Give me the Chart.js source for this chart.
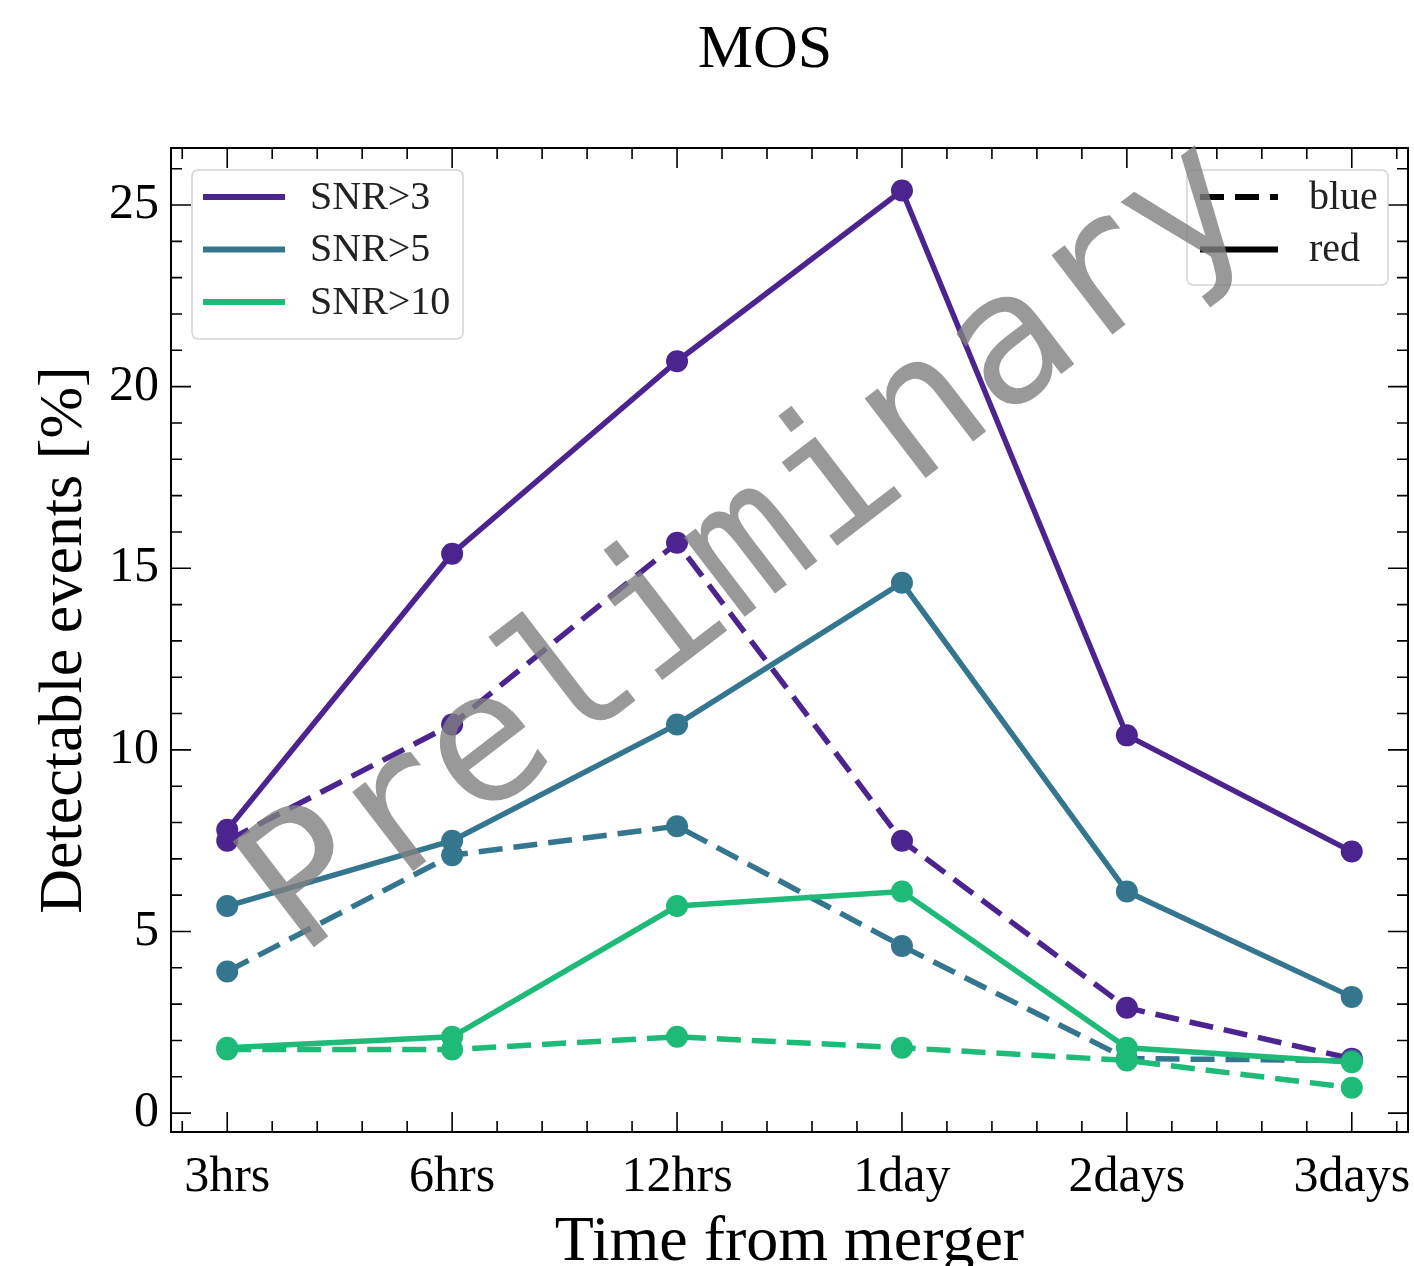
<!DOCTYPE html>
<html>
<head>
<meta charset="utf-8">
<script src="https://cdn.jsdelivr.net/npm/chart.js@4.4.0/dist/chart.umd.min.js"></script>
<style>
  html, body { margin: 0; padding: 0; background: #fff; }
  #wrap { width: 1414px; height: 1266px; }
</style>
</head>
<body>
<div id="wrap"><canvas id="mosChart" width="1414" height="1266"></canvas></div>
<script>
const TIMES = ["3hrs", "6hrs", "12hrs", "1day", "2days", "3days"];
const Y_TICKS = [0, 5, 10, 15, 20, 25];
// solid = red, dashed = blue
const SNR3_RED = [7.8, 15.4, 20.7, 25.4, 10.4, 7.2];
const SNR3_BLUE = [7.5, 10.7, 15.7, 7.5, 2.9, 1.5];
const SNR5_RED = [5.7, 7.5, 10.7, 14.6, 6.1, 3.2];
const SNR5_BLUE = [3.9, 7.1, 7.9, 4.6, 1.5, 1.45];
const SNR10_RED = [1.8, 2.1, 5.7, 6.1, 1.8, 1.4];
const SNR10_BLUE = [1.75, 1.75, 2.1, 1.8, 1.45, 0.7];

const PURPLE = "#4b2490";
const TEAL = "#35768f";
const GREEN = "#1dba78";
const SERIF = "'Liberation Serif', 'DejaVu Serif', serif";
const DASH = [24, 11];

function toPoints(values) {
  return values.map((v, i) => ({ x: i, y: v }));
}

function makeSet(label, values, color, dashed, order) {
  return {
    label: label,
    data: toPoints(values),
    borderColor: color,
    backgroundColor: color,
    borderWidth: 5.5,
    borderDash: dashed ? DASH : [],
    pointRadius: 11,
    pointBorderWidth: 0,
    pointBackgroundColor: color,
    tension: 0,
    order: order,
  };
}

const datasets = [
  makeSet("SNR>10 red", SNR10_RED, GREEN, false, 1),
  makeSet("SNR>10 blue", SNR10_BLUE, GREEN, true, 1),
  makeSet("SNR>5 red", SNR5_RED, TEAL, false, 2),
  makeSet("SNR>5 blue", SNR5_BLUE, TEAL, true, 2),
  makeSet("SNR>3 red", SNR3_RED, PURPLE, false, 3),
  makeSet("SNR>3 blue", SNR3_BLUE, PURPLE, true, 3),
];

function roundBox(ctx, x, y, w, h, r) {
  ctx.beginPath();
  ctx.moveTo(x + r, y);
  ctx.lineTo(x + w - r, y);
  ctx.quadraticCurveTo(x + w, y, x + w, y + r);
  ctx.lineTo(x + w, y + h - r);
  ctx.quadraticCurveTo(x + w, y + h, x + w - r, y + h);
  ctx.lineTo(x + r, y + h);
  ctx.quadraticCurveTo(x, y + h, x, y + h - r);
  ctx.lineTo(x, y + r);
  ctx.quadraticCurveTo(x, y, x + r, y);
  ctx.closePath();
  ctx.fillStyle = "rgba(255,255,255,0.8)";
  ctx.fill();
  ctx.strokeStyle = "#d4d4d4";
  ctx.lineWidth = 1.5;
  ctx.stroke();
}

const framePlugin = {
  id: "frameAndExtras",
  afterDatasetsDraw(chart) {
    const ctx = chart.ctx;
    const a = chart.chartArea;
    const xs = chart.scales.x;
    const ys = chart.scales.y;
    ctx.save();
    // title
    ctx.fillStyle = "#000";
    ctx.font = "62px " + SERIF;
    ctx.textAlign = "center";
    ctx.textBaseline = "alphabetic";
    ctx.fillText("MOS", 765, 67);
    // frame
    ctx.strokeStyle = "#000";
    ctx.lineWidth = 2;
    ctx.strokeRect(a.left, a.top, a.right - a.left, a.bottom - a.top);
    // inward ticks on all sides
    ctx.lineWidth = 1.6;
    ctx.beginPath();
    for (let i = -1; i <= TIMES.length; i += 0.2) {
      const v = Math.round(i * 10) / 10;
      if (v < xs.min || v > xs.max) continue;
      const px = xs.getPixelForValue(v);
      const len = Math.abs(v - Math.round(v)) < 1e-6 ? 20 : 11;
      ctx.moveTo(px, a.bottom); ctx.lineTo(px, a.bottom - len);
      ctx.moveTo(px, a.top); ctx.lineTo(px, a.top + len);
    }
    for (let v = 0; v <= ys.max; v += 1) {
      const py = ys.getPixelForValue(v);
      const len = v % 5 === 0 ? 20 : 11;
      ctx.moveTo(a.left, py); ctx.lineTo(a.left + len, py);
      ctx.moveTo(a.right, py); ctx.lineTo(a.right - len, py);
    }
    ctx.stroke();

    // legend: SNR colours
    roundBox(ctx, 192, 170, 271, 169, 7);
    const snrItems = [["SNR>3", PURPLE], ["SNR>5", TEAL], ["SNR>10", GREEN]];
    ctx.font = "40px " + SERIF;
    ctx.textBaseline = "middle";
    ctx.textAlign = "left";
    snrItems.forEach((it, k) => {
      const y = 197 + k * 52.5;
      ctx.strokeStyle = it[1];
      ctx.lineWidth = 6;
      ctx.setLineDash([]);
      ctx.beginPath(); ctx.moveTo(203, y); ctx.lineTo(285, y); ctx.stroke();
      ctx.fillStyle = "#222";
      ctx.fillText(it[0], 310, y + 1);
    });

    // legend: line styles
    roundBox(ctx, 1187, 170, 201, 115, 7);
    const styleItems = [["blue", DASH], ["red", []]];
    styleItems.forEach((it, k) => {
      const y = 197 + k * 52.5;
      ctx.strokeStyle = "#000";
      ctx.lineWidth = 6;
      ctx.setLineDash(it[1]);
      ctx.beginPath(); ctx.moveTo(1200, y); ctx.lineTo(1278, y); ctx.stroke();
      ctx.setLineDash([]);
      ctx.fillStyle = "#222";
      ctx.fillText(it[0], 1309, y + 1);
    });

    // watermark
    ctx.translate(300, 958);
    ctx.rotate(-37.5 * Math.PI / 180);
    ctx.font = "183px 'DejaVu Sans Mono', monospace";
    ctx.fillStyle = "rgba(128,128,128,0.8)";
    ctx.textAlign = "left";
    ctx.textBaseline = "alphabetic";
    ctx.fillText("Preliminary", 0, 0);
    ctx.restore();
  },
};

new Chart(document.getElementById("mosChart").getContext("2d"), {
  type: "line",
  data: { datasets: datasets },
  options: {
    responsive: false,
    animation: false,
    devicePixelRatio: 1,
    events: [],
    layout: { autoPadding: false, padding: { left: 0, right: 6, top: 148, bottom: 0 } },
    plugins: {
      legend: { display: false },
      tooltip: { enabled: false },
      title: { display: false },
    },
    scales: {
      x: {
        type: "linear",
        min: -0.25,
        max: 5.25,
        afterBuildTicks: (s) => { s.ticks = TIMES.map((t, i) => ({ value: i })); },
        afterFit: (s) => {
          s.height = 134;
          s.paddingLeft = 0;
          s.paddingRight = 0;
        },
        grid: { display: false, drawTicks: false },
        border: { display: false },
        ticks: {
          autoSkip: false,
          maxRotation: 0,
          padding: 16,
          color: "#000",
          font: { family: SERIF, size: 50 },
          callback: (v) => TIMES[v],
        },
        title: {
          display: true,
          text: "Time from merger",
          color: "#000",
          font: { family: SERIF, size: 64, lineHeight: 0.7 },
          padding: { top: 0, bottom: 0 },
        },
      },
      y: {
        min: -0.52,
        max: 26.57,
        afterBuildTicks: (s) => { s.ticks = Y_TICKS.map((v) => ({ value: v })); },
        afterFit: (s) => {
          s.width = 171;
          s.paddingTop = 0;
          s.paddingBottom = 0;
        },
        grid: { display: false, drawTicks: false },
        border: { display: false },
        ticks: {
          padding: 12,
          color: "#000",
          font: { family: SERIF, size: 50 },
          callback: (v) => String(v),
        },
        title: {
          display: true,
          text: "Detectable events [%]",
          color: "#000",
          font: { family: SERIF, size: 62, lineHeight: 1.2 },
          padding: { top: 28, bottom: 0 },
        },
      },
    },
  },
  plugins: [framePlugin],
});
</script>
</body>
</html>
